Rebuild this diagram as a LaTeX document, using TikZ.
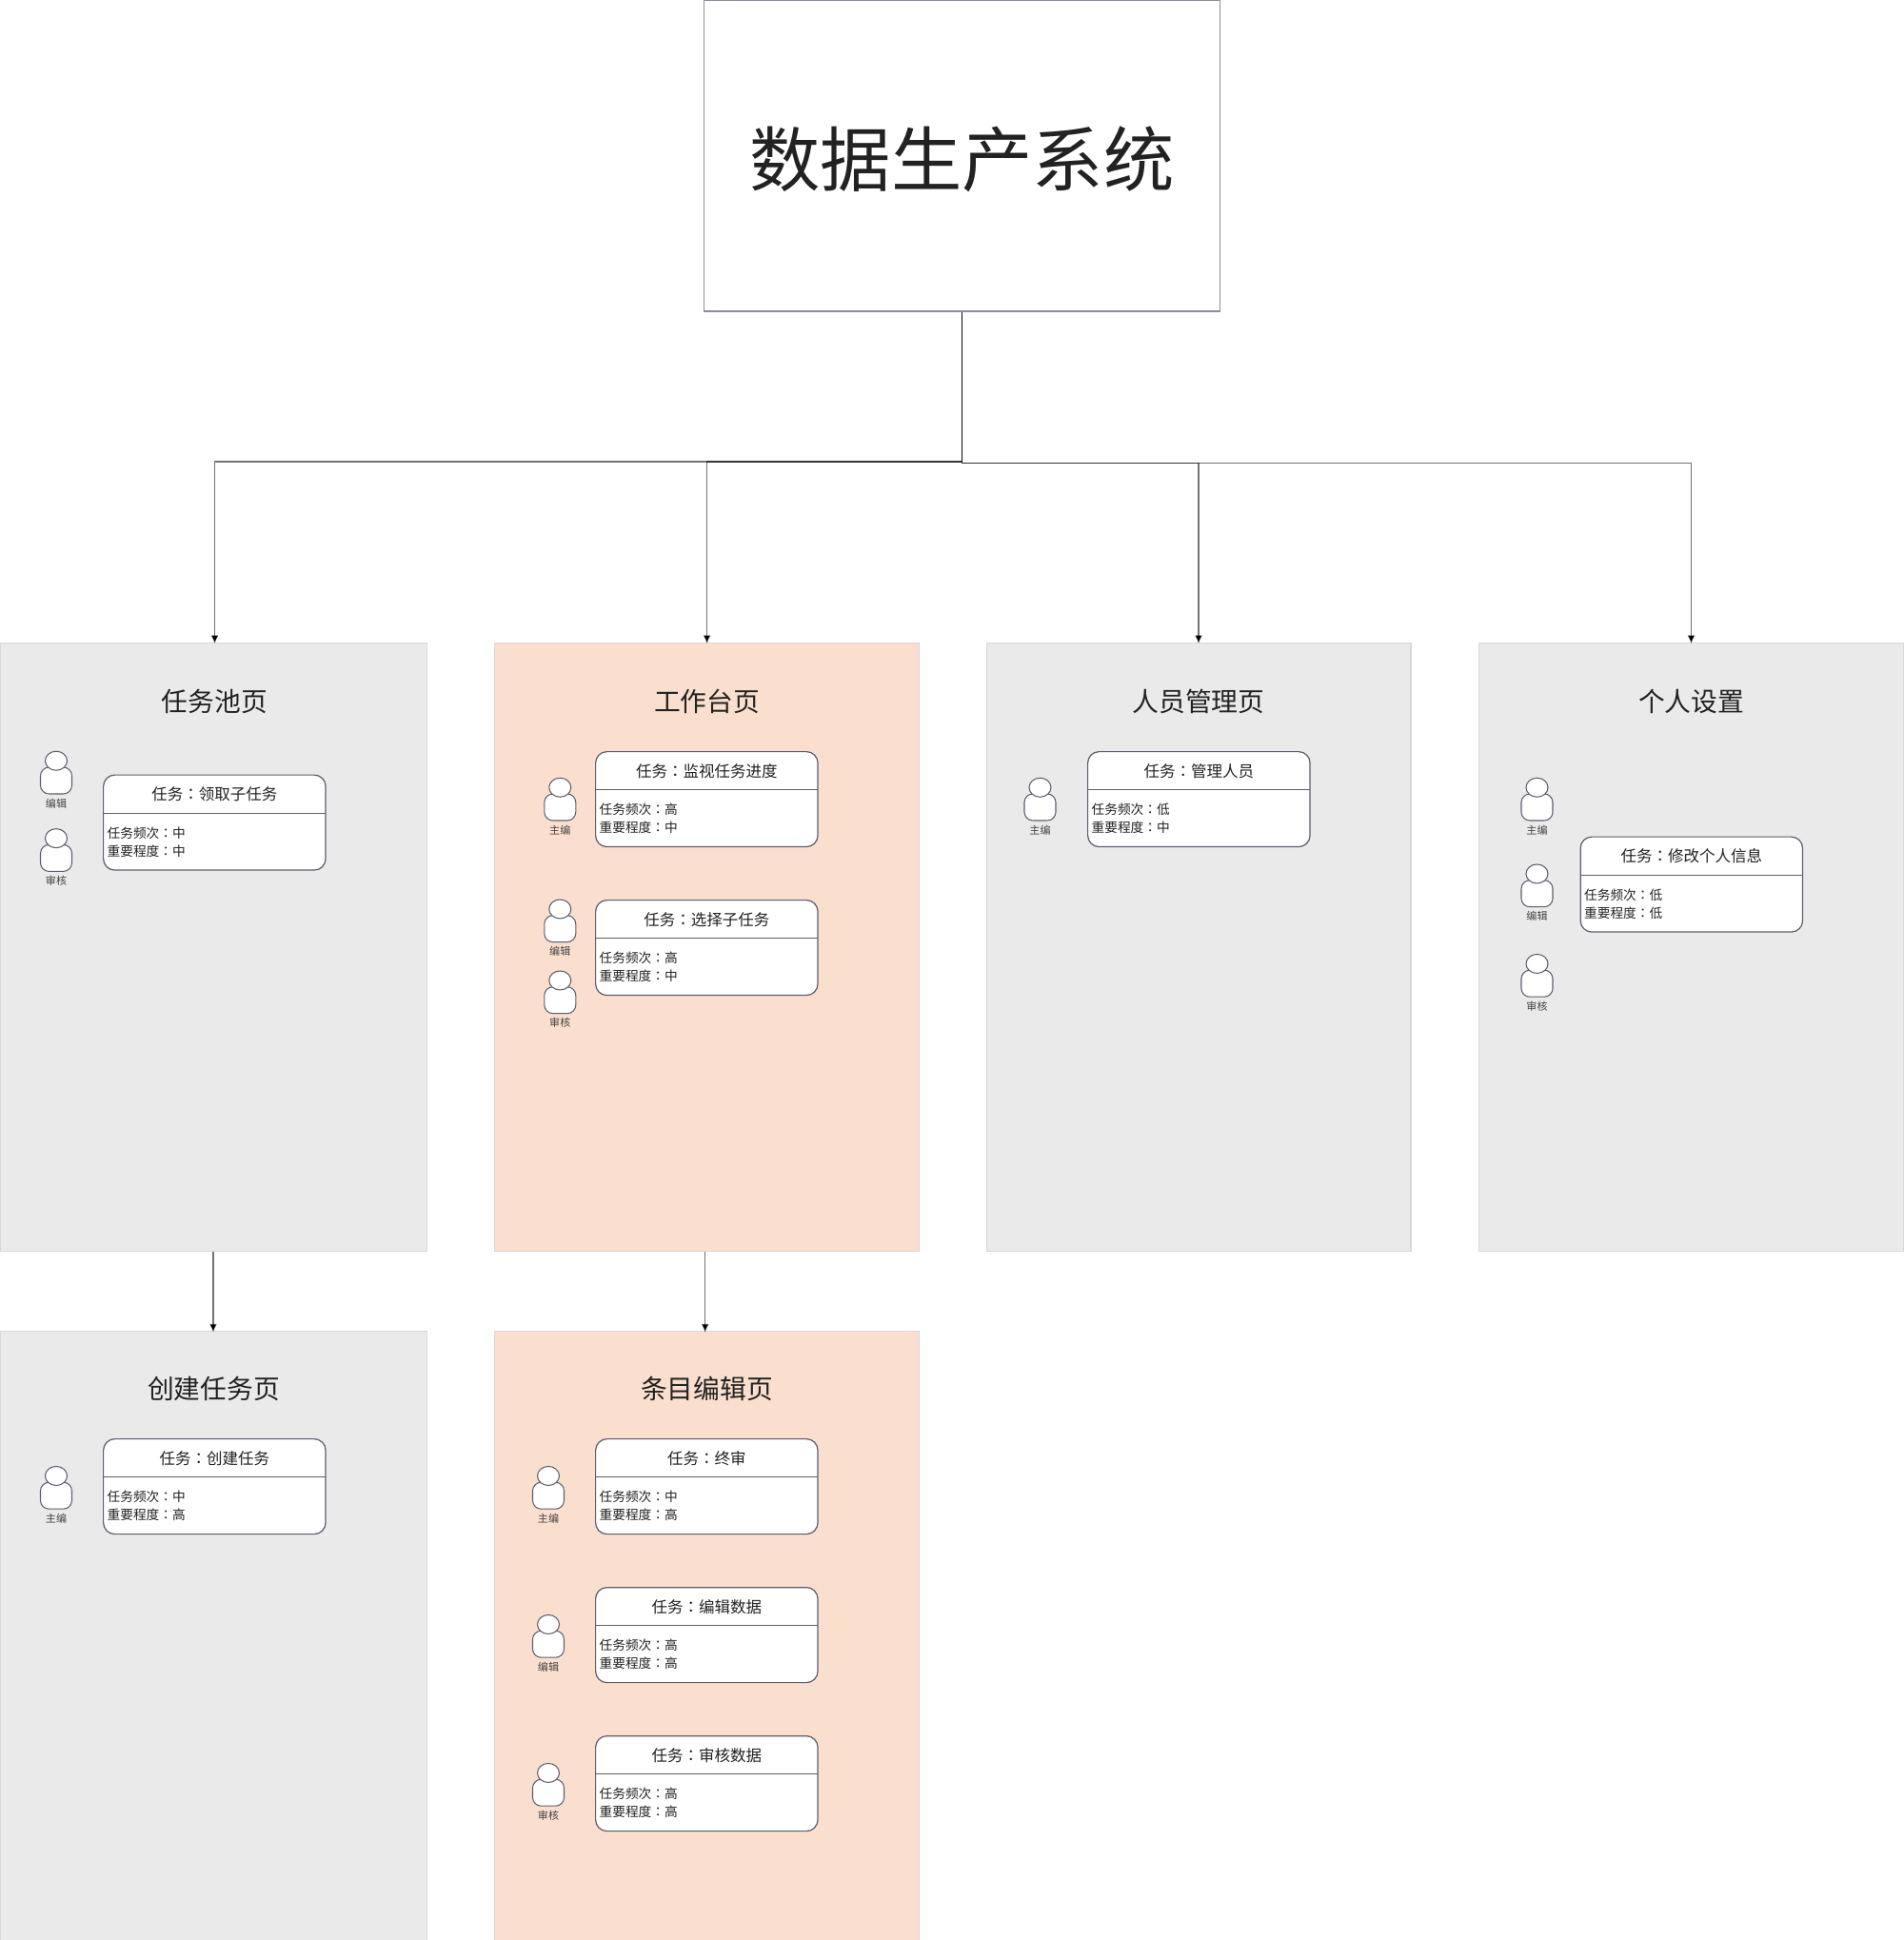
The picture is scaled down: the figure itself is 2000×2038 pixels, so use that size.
\documentclass[tikz,border=0pt]{standalone}
\usepackage{fontspec}
\setmainfont{Noto Sans CJK SC}
\newfontfamily\tcfont{Noto Sans CJK TC}
\usetikzlibrary{arrows.meta, positioning, calc, shapes.geometric}

\definecolor{panelgray}{HTML}{EAEAEB}
\definecolor{panelpeach}{HTML}{FADFCF}
\definecolor{panelline}{HTML}{D8D8D8}
\definecolor{cardline}{HTML}{5E5E70}
\definecolor{boxline}{HTML}{8C8CA0}
\definecolor{inkdark}{HTML}{222222}

% full-width colon, centred
\newcommand{\midcolon}{{\tcfont ：}}
% one task card: name, x, y, task, frequency, importance
\newcommand{\taskcard}[6]{
  \node[card] (#1) at (#2,#3) {};
  \node[card_head] (#1_head) at (#1.north) {\raisebox{-0.4pt}[\height][\depth]{任务\midcolon #4}};
  \draw[card_rule] (#1_head.south west) -- (#1_head.south east);
  \node[card_body] (#1_body) at (#1_head.south west) {任务频次\midcolon #5\\重要程度\midcolon #6};
}
% one person icon: name, x, y of the body, role
\newcommand{\roleicon}[4]{
  \node[role_body] (#1) at (#2,#3) {};
  \node[role_head, above=-0.086cm of #1.north] (#1_head) {};
  \node[role_text, below=0.08cm of #1.south] (#1_text) {#4};
}

\begin{document}
\begin{tikzpicture}[
  x=0.02cm, y=-0.02cm,
  root/.style = {draw=boxline, line width=0.8pt, fill=white, minimum width=10.84cm, minimum height=6.54cm,
                 text=inkdark, font=\fontsize{42.3}{48}\selectfont},
  panel/.style = {draw=panelline, line width=0.6pt, fill=panelgray, anchor=north, minimum width=8.92cm, minimum height=12.8cm},
  wide_panel/.style = {panel, minimum width=8.98cm},
  peach_panel/.style = {panel, fill=panelpeach},
  panel_title/.style = {text=inkdark, font=\fontsize{15.8}{19}\selectfont},
  card/.style = {draw=cardline, line width=0.7pt, fill=white, rounded corners=2.4mm, anchor=north west,
                 minimum width=4.67cm, minimum height=2.0cm},
  card_head/.style = {anchor=north, minimum width=4.67cm, minimum height=0.8cm, inner sep=0pt,
                      text=inkdark, font=\fontsize{9.4}{11}\selectfont},
  card_rule/.style = {draw=cardline, line width=0.7pt},
  card_body/.style = {anchor=north west, align=left, inner sep=0pt, xshift=0.08cm, yshift=-0.28cm,
                      text=inkdark, font=\fontsize{7.8}{10.8}\selectfont},
  role_body/.style = {draw=cardline, line width=0.6pt, fill=white, rounded corners=1.8mm,
                      minimum width=0.66cm, minimum height=0.56cm},
  role_head/.style = {ellipse, draw=cardline, line width=0.6pt, fill=white, inner sep=0pt,
                      minimum width=0.46cm, minimum height=0.4cm},
  role_text/.style = {inner sep=0pt, text=inkdark!85, font=\fontsize{6.3}{7}\selectfont},
  arrow/.style = {draw=black, draw opacity=0.55, line width=0.6pt, -{Latex[length=5pt, width=4.4pt, color=black]}, shorten >=-1pt},
]

\useasboundingbox (0,0) rectangle (2000,2038);

%--------------------------------------------------
% Pages
%--------------------------------------------------
\node[root] (system) at (1010.5,163.5) {\raisebox{-2.2pt}[\height][\depth]{数据生产系统}};

\node[wide_panel] (pool) at (224.5,674.5) {};
\node[peach_panel] (desk) at (742.6,674.5) {};
\node[panel] (staff) at (1259,674.5) {};
\node[panel] (settings) at (1776.5,674.5) {};
\node[wide_panel] (create) at (224.5,1398) {};
\node[peach_panel] (entry) at (742.6,1398) {};

\node[panel_title] (pool_title) at (225.5,736.5) {任务池页};
\node[panel_title] (desk_title) at (742.6,736.5) {工作台页};
\node[panel_title] (staff_title) at (1259,736.5) {人员管理页};
\node[panel_title] (settings_title) at (1776.5,736.5) {个人设置};
\node[panel_title] (create_title) at (224.5,1459) {创建任务页};
\node[panel_title] (entry_title) at (742.6,1459) {条目编辑页};

%--------------------------------------------------
% Connections
%--------------------------------------------------
\coordinate (bus_left) at (1010.5,485);
\coordinate (bus_right) at (1010.5,486.7);

\draw[arrow] (system.south) -- (bus_left) -| ([xshift=0.6pt]pool.north);
\draw[arrow] (system.south) -- (bus_left) -| (desk.north);
\draw[arrow] (system.south) -- (bus_right) -| (staff.north);
\draw[arrow] (system.south) -- (bus_right) -| (settings.north);

\draw[arrow] ([xshift=-0.3pt]pool.south) -- ([xshift=-0.3pt]create.north);
\draw[arrow] ([xshift=-1.1pt]desk.south) -- ([xshift=-1.1pt]entry.north);

%--------------------------------------------------
% Task cards
%--------------------------------------------------
\taskcard{claim}{108}{813.5}{领取子任务}{中}{中}
\taskcard{monitor}{625}{789}{监视任务进度}{高}{中}
\taskcard{choose}{625}{945}{选择子任务}{高}{中}
\taskcard{manage}{1142}{789}{管理人员}{低}{中}
\taskcard{profile}{1659.5}{878.5}{修改个人信息}{低}{低}
\taskcard{newtask}{108}{1511}{创建任务}{中}{高}
\taskcard{final}{625}{1511}{终审}{中}{高}
\taskcard{edit}{625}{1667}{编辑数据}{高}{高}
\taskcard{review}{625}{1823}{审核数据}{高}{高}

%--------------------------------------------------
% Roles
%--------------------------------------------------
\roleicon{pool_editor}{59}{820}{编辑}
\roleicon{pool_auditor}{59}{901.4}{审核}
\roleicon{desk_chief}{588.3}{848}{主编}
\roleicon{desk_editor}{588.3}{975.7}{编辑}
\roleicon{desk_auditor}{588.3}{1050.7}{审核}
\roleicon{staff_chief}{1092.5}{848}{主编}
\roleicon{set_chief}{1614.5}{848}{主编}
\roleicon{set_editor}{1614.5}{938.7}{编辑}
\roleicon{set_auditor}{1614.5}{1033.2}{审核}
\roleicon{create_chief}{59}{1571.2}{主编}
\roleicon{entry_chief}{576}{1571.2}{主编}
\roleicon{entry_editor}{576}{1727.2}{编辑}
\roleicon{entry_auditor}{576}{1883.2}{审核}

\end{tikzpicture}
\end{document}
